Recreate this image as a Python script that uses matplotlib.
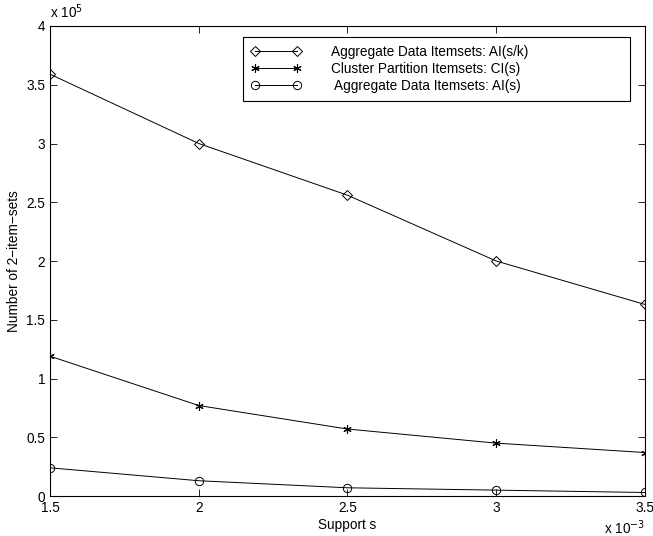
import matplotlib.pyplot as plt

plt.rcParams['font.family'] = ['Liberation Sans', 'DejaVu Sans']

# support values (x 10^-3)
support = [1.5, 2.0, 2.5, 3.0, 3.5]
# number of 2-item-sets (x 10^5)
ai_sk = [3.59, 3.00, 2.56, 2.00, 1.63]
ci_s = [1.19, 0.77, 0.57, 0.45, 0.37]
ai_s = [0.24, 0.13, 0.07, 0.05, 0.03]

labels = ["Aggregate Data Itemsets: AI(s/k)",
          "Cluster Partition Itemsets: CI(s)",
          " Aggregate Data Itemsets: AI(s)"]

fig = plt.figure(figsize=(6.53, 5.36), dpi=100)
ax = fig.add_axes([0.0766, 0.0746, 0.9111, 0.8769])

ax.plot(support, ai_sk, color='black', lw=0.7, marker='D', markersize=5,
        mfc='none', mec='black', mew=0.7, label=labels[0])
ax.plot(support, ci_s, color='black', lw=0.7, marker=(6, 2, 0), markersize=6,
        mfc='black', mec='black', mew=0.8, label=labels[1])
ax.plot(support, ai_s, color='black', lw=0.7, marker='o', markersize=6,
        mfc='none', mec='black', mew=0.7, label=labels[2])

ax.set_xlim(1.5, 3.5)
ax.set_ylim(0, 4)
ax.set_xticks(support)
ax.set_xticklabels(["1.5", "2", "2.5", "3", "3.5"])
ax.set_yticks([0, 0.5, 1, 1.5, 2, 2.5, 3, 3.5, 4])
ax.set_yticklabels(["0", "0.5", "1", "1.5", "2", "2.5", "3", "3.5", "4"])
ax.tick_params(direction='in', top=True, right=True, labelsize=9.8, length=5, width=0.6)
for s in ax.spines.values():
    s.set_linewidth(0.8)

ax.set_xlabel("Support s", fontsize=9.8, labelpad=2)
ax.set_ylabel("Number of 2\u2212item\u2212sets", fontsize=9.8, labelpad=4)

ax.text(0.0, 1.01, r"x 10$^{5}$", transform=ax.transAxes, fontsize=9.8, va='bottom', ha='left')
ax.text(1.0, -0.048, r"x 10$^{-3}$", transform=ax.transAxes, fontsize=9.8, va='top', ha='right')

leg = ax.legend(loc='upper left', bbox_to_anchor=(0.3244, 0.9766, 0.650, 0.0), mode='expand',
                numpoints=2, fontsize=9.8, fancybox=False, edgecolor='black', framealpha=1,
                handlelength=3.7, borderpad=0.6, labelspacing=0.2, handletextpad=2.2,
                borderaxespad=0)
leg.get_frame().set_linewidth(0.8)

fig.savefig("out.png", dpi=100)
